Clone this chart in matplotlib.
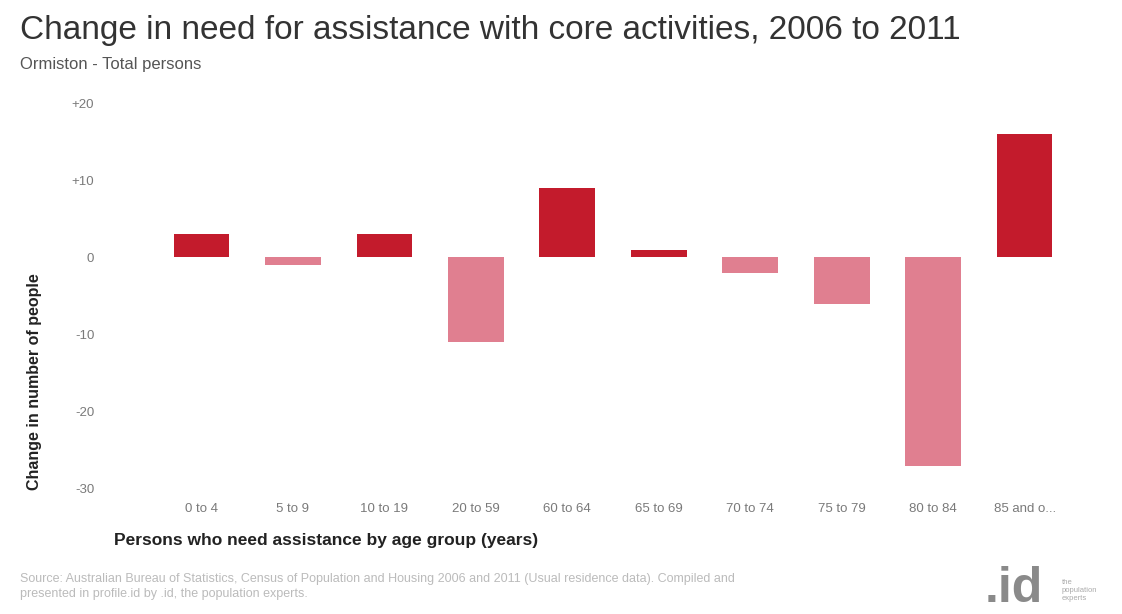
import matplotlib
matplotlib.use("Agg")
import matplotlib.pyplot as plt

plt.rcParams['font.family'] = ['Liberation Sans', 'DejaVu Sans']

age_groups = ['0 to 4', '5 to 9', '10 to 19', '20 to 59', '60 to 64',
              '65 to 69', '70 to 74', '75 to 79', '80 to 84', '85 and o...']
change = [3, -1, 3, -11, 9, 1, -2, -6, -27, 16]
ytick_vals = [20, 10, 0, -10, -20, -30]
ytick_labels = ['+20', '+10', '0', '-10', '-20', '-30']

pos_color = '#c31b2c'
neg_color = '#e07f90'

fig = plt.figure(figsize=(11.22, 6.14), dpi=100)
ax = fig.add_axes([0.094, 0.2036, 0.864, 0.6286])

colors = [pos_color if v >= 0 else neg_color for v in change]
ax.bar(range(len(age_groups)), change, width=0.61, color=colors, zorder=3)

ax.set_xlim(-1.05, 9.55)
ax.set_ylim(-30, 20)
ax.set_yticks(ytick_vals)
ax.set_yticklabels(ytick_labels)
ax.set_xticks(range(len(age_groups)))
ax.set_xticklabels(age_groups)
ax.tick_params(axis='both', length=0, labelsize=9.5, labelcolor='#7a7a7a')
ax.tick_params(axis='x', pad=10)
ax.tick_params(axis='y', pad=8)
for s in ax.spines.values():
    s.set_visible(False)

fig.text(0.018, 0.937, 'Change in need for assistance with core activities, 2006 to 2011',
         fontsize=24, color='#333333', va='baseline')
fig.text(0.018, 0.888, 'Ormiston - Total persons', fontsize=12, color='#555555', va='baseline')

fig.text(0.031, 0.202, 'Change in number of people', rotation=90, fontsize=11.5,
         fontweight='bold', color='#222222', ha='center', va='bottom')
fig.text(0.102, 0.113, 'Persons who need assistance by age group (years)', fontsize=12.5,
         fontweight='bold', color='#222222', va='baseline')

fig.text(0.018, 0.022,
         'Source: Australian Bureau of Statistics, Census of Population and Housing 2006 and 2011 (Usual residence data). Compiled and\n'
         'presented in profile.id by .id, the population experts.',
         fontsize=9, color='#bbbbbb', va='bottom', linespacing=1.4)

fig.text(0.878, 0.004, '.id', fontsize=36, fontweight='bold', color='#8a8a8a', va='bottom')
fig.text(0.946, 0.02, 'the\npopulation\nexperts', fontsize=5.5, color='#aaaaaa', va='bottom')

fig.savefig('out.png', dpi=100)
